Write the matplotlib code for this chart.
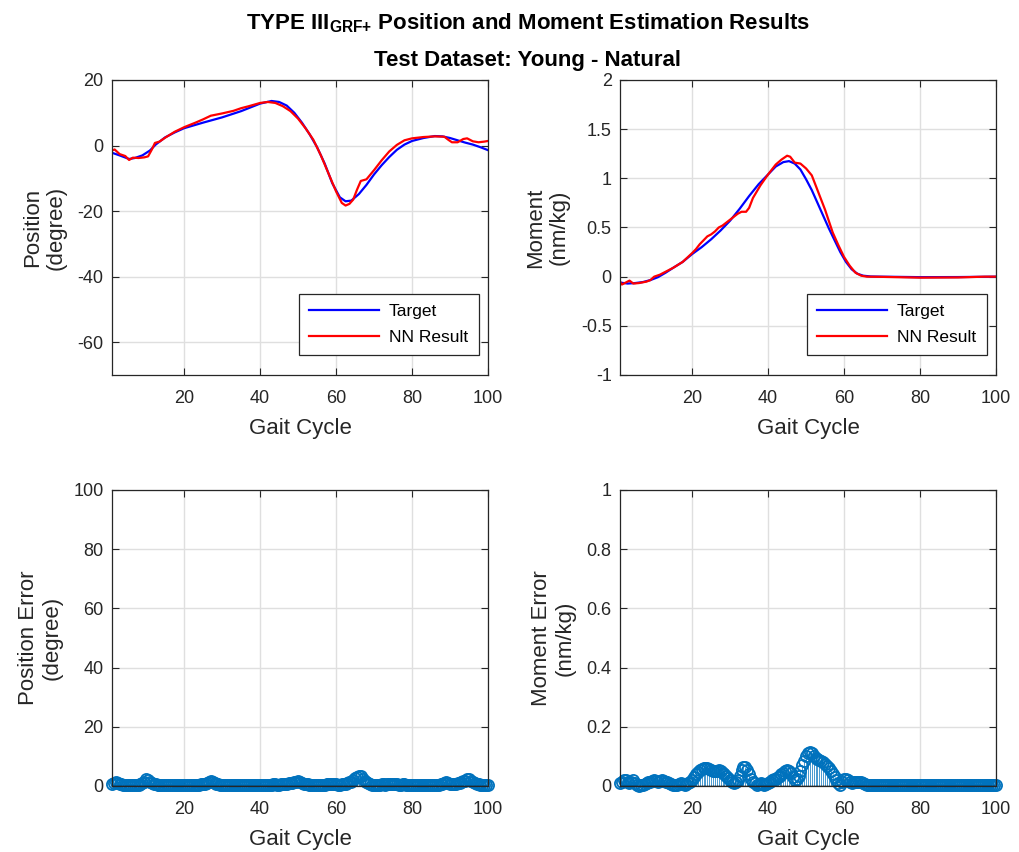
import numpy as np
import matplotlib.pyplot as plt

plt.rcParams['font.family'] = ['Liberation Sans', 'DejaVu Sans']
plt.rcParams['mathtext.fontset'] = 'custom'
plt.rcParams['mathtext.rm'] = 'Liberation Sans'
plt.rcParams['mathtext.bf'] = 'Liberation Sans:bold'
plt.rcParams['axes.unicode_minus'] = False

# ---- position (degree): target vs NN result ----
pos_tgt_x = [1, 3, 5.5, 7, 9, 11, 12.5, 15, 17.5, 20, 25, 30, 35, 40, 43, 45, 47, 49, 51, 53,
             55, 57, 59, 61, 62.5, 64, 66, 68, 70, 72, 74, 76, 78, 80, 83, 86, 88, 90, 92, 94,
             96, 98, 100]
pos_tgt_y = [-2.2, -3.0, -4.1, -3.8, -3.0, -1.5, 0.3, 2.5, 4.0, 5.3, 7.0, 8.6, 10.5, 12.8, 13.6,
             13.3, 12.2, 10.0, 7.0, 3.5, -0.5, -5.5, -11.5, -15.8, -17.0, -16.8, -14.8, -12.0,
             -8.8, -6.0, -3.5, -1.3, 0.3, 1.4, 2.3, 2.9, 2.8, 2.3, 1.6, 0.9, 0.3, -0.5, -1.4]

pos_nn_x = [1, 1.7, 3, 4.5, 5.5, 6.5, 8, 9.5, 10.5, 11.5, 12.3, 13.5, 15, 17.5, 20, 23, 25, 27,
            30, 33, 35, 37, 40, 42, 44, 46, 48, 50, 52, 54, 56, 58, 60, 61.5, 62.5, 63.5, 64.5,
            65.5, 66.5, 68, 70, 72, 74, 76, 78, 80, 83, 86, 88.5, 89.5, 90.5, 92, 93.5, 94.5,
            96, 97.5, 99, 100]
pos_nn_y = [-1.5, -1.2, -2.6, -3.2, -4.4, -3.7, -3.8, -3.6, -3.3, -1.2, 0.8, 1.2, 2.4, 4.2, 5.6,
            7.0, 8.0, 9.1, 9.8, 10.6, 11.4, 12.0, 13.0, 13.3, 13.0, 12.0, 10.5, 8.2, 5.2, 1.8,
            -3.0, -8.5, -14.0, -17.5, -18.3, -17.8, -16.5, -13.5, -10.8, -10.3, -7.5, -4.5, -1.8,
            0.2, 1.6, 2.2, 2.6, 2.8, 2.7, 1.8, 1.0, 1.0, 2.0, 2.2, 1.3, 1.0, 1.2, 1.4]

# ---- moment (nm/kg): target vs NN result ----
mom_tgt_x = [1, 3, 5, 7, 9, 11, 13, 15, 17.5, 20, 22.5, 25, 27.5, 30, 32.5, 35, 37.5, 40, 42, 44,
             45.5, 47, 48.5, 50, 51.5, 53, 54.5, 56, 57.5, 59, 60.5, 62, 63.5, 65, 67, 70, 80,
             90, 100]
mom_tgt_y = [-0.06, -0.07, -0.065, -0.055, -0.035, -0.005, 0.04, 0.09, 0.15, 0.23, 0.30, 0.38,
             0.47, 0.57, 0.69, 0.82, 0.94, 1.04, 1.12, 1.165, 1.175, 1.15, 1.09, 0.99, 0.88, 0.75,
             0.62, 0.49, 0.37, 0.25, 0.15, 0.075, 0.03, 0.01, 0.002, 0.0, -0.005, -0.004, 0.0]

mom_nn_x = [1, 1.5, 2.5, 3.5, 4.5, 6, 8, 9, 10, 11.5, 13, 15, 17.5, 20, 21, 22, 24, 25, 26, 27,
            28, 30, 32, 33, 34.2, 35, 36, 38, 40, 42, 43.5, 45, 45.8, 47, 48.5, 50, 51.5, 53, 55,
            57, 58.5, 60, 61.5, 63, 64.5, 66, 70, 80, 90, 97, 100]
mom_nn_y = [-0.05, -0.08, -0.06, -0.04, -0.07, -0.065, -0.05, -0.035, 0.0, 0.02, 0.05, 0.09, 0.15,
            0.24, 0.28, 0.33, 0.41, 0.43, 0.46, 0.50, 0.52, 0.58, 0.64, 0.66, 0.66, 0.70, 0.80,
            0.93, 1.04, 1.14, 1.19, 1.23, 1.22, 1.16, 1.15, 1.10, 1.03, 0.88, 0.68, 0.45, 0.32,
            0.20, 0.11, 0.04, 0.01, 0.0, -0.002, -0.01, -0.008, 0.0, 0.0]

# ---- absolute errors, every half percent of the gait cycle ----
gait = np.arange(1, 100.5, 0.5)
pos_err = [0.8, 1.0, 1.2, 1.0, 0.8, 0.6, 0.5, 0.4, 0.3, 0.3,
           0.3, 0.4, 0.5, 0.5, 0.5, 0.7, 1.0, 1.5, 2.2, 2.0,
           1.5, 1.1, 0.8, 0.6, 0.4, 0.3, 0.3, 0.2, 0.2, 0.3,
           0.3, 0.4, 0.4, 0.3, 0.3, 0.3, 0.3, 0.4, 0.4, 0.3,
           0.3, 0.3, 0.3, 0.4, 0.4, 0.5, 0.5, 0.6, 0.6, 0.7,
           0.9, 1.2, 1.6, 1.3, 0.9, 0.7, 0.6, 0.5, 0.4, 0.3,
           0.3, 0.3, 0.3, 0.2, 0.2, 0.3, 0.3, 0.3, 0.3, 0.2,
           0.2, 0.3, 0.3, 0.4, 0.4, 0.3, 0.3, 0.3, 0.3, 0.3,
           0.3, 0.4, 0.4, 0.5, 0.5, 0.6, 0.6, 0.5, 0.5, 0.6,
           0.7, 0.7, 0.8, 0.9, 1.0, 1.1, 1.3, 1.5, 1.6, 1.4,
           1.0, 0.8, 0.7, 0.6, 0.5, 0.4, 0.4, 0.3, 0.3, 0.3,
           0.3, 0.4, 0.5, 0.6, 0.6, 0.7, 0.8, 0.7, 0.6, 0.5,
           0.5, 0.6, 0.7, 0.8, 1.0, 1.2, 1.5, 2.0, 2.6, 3.1,
           3.5, 3.3, 2.5, 1.8, 1.2, 0.9, 0.6, 0.5, 0.4, 0.4,
           0.4, 0.5, 0.6, 0.6, 0.5, 0.6, 0.7, 0.8, 0.8, 0.7,
           0.6, 0.5, 0.5, 0.6, 0.6, 0.5, 0.4, 0.5, 0.5, 0.5,
           0.5, 0.4, 0.4, 0.3, 0.3, 0.4, 0.4, 0.3, 0.3, 0.4,
           0.4, 0.5, 0.5, 0.7, 0.8, 1.0, 1.2, 1.0, 0.8, 0.7,
           0.6, 0.7, 0.9, 1.1, 1.3, 1.6, 1.8, 2.3, 2.2, 1.8,
           1.5, 1.1, 0.8, 0.6, 0.5, 0.4, 0.4, 0.3, 0.3]
mom_err = [0.01, 0.015, 0.02, 0.02, 0.015, 0.01, 0.015, 0.02, 0.01, 0.005,
           0.0, 0.003, 0.005, 0.008, 0.01, 0.012, 0.015, 0.018, 0.02, 0.018,
           0.015, 0.018, 0.02, 0.018, 0.015, 0.012, 0.01, 0.008, 0.005, 0.005,
           0.005, 0.008, 0.01, 0.008, 0.005, 0.008, 0.01, 0.015, 0.02, 0.03,
           0.04, 0.048, 0.055, 0.058, 0.06, 0.062, 0.06, 0.058, 0.055, 0.052,
           0.05, 0.052, 0.055, 0.05, 0.045, 0.04, 0.035, 0.028, 0.02, 0.015,
           0.01, 0.012, 0.02, 0.035, 0.055, 0.065, 0.065, 0.055, 0.04, 0.025,
           0.015, 0.01, 0.005, 0.008, 0.01, 0.008, 0.005, 0.008, 0.01, 0.015,
           0.02, 0.022, 0.025, 0.03, 0.035, 0.04, 0.045, 0.05, 0.055, 0.052,
           0.045, 0.03, 0.02, 0.025, 0.035, 0.05, 0.07, 0.085, 0.1, 0.11,
           0.115, 0.11, 0.1, 0.095, 0.09, 0.088, 0.085, 0.08, 0.075, 0.068,
           0.06, 0.05, 0.04, 0.03, 0.02, 0.01, 0.005, 0.015, 0.025, 0.022,
           0.02, 0.015, 0.01, 0.012, 0.015, 0.015, 0.015, 0.012, 0.01, 0.008,
           0.005, 0.004, 0.003, 0.002, 0.002, 0.002, 0.002, 0.002, 0.002, 0.002] + [0.002] * 59

DARK = '#262626'
GRID = '#dfdfdf'
STEM = '#0072BD'

fig = plt.figure(figsize=(10.19, 8.52), dpi=100)

W, H = 1019, 852
def add_axes(x0, y0, x1, y1):
    return fig.add_axes([x0 / W, 1 - y1 / H, (x1 - x0) / W, (y1 - y0) / H])

ax_pos = add_axes(112, 80, 488, 375)
ax_mom = add_axes(620, 80, 996, 375)
ax_pe = add_axes(112, 490, 488, 786)
ax_me = add_axes(620, 490, 996, 786)


def style(ax, ylim, yticks, ylabel, ytl=None):
    ax.set_xlim(1, 100)
    ax.set_xticks([20, 40, 60, 80, 100])
    ax.set_ylim(*ylim)
    ax.set_yticks(yticks)
    if ytl is not None:
        ax.set_yticklabels(ytl)
    ax.grid(True, color=GRID, linewidth=1.0)
    ax.set_axisbelow(True)
    ax.tick_params(direction='in', top=True, right=True, length=5, width=0.8,
                   colors=DARK, labelsize=13)
    ax.tick_params(axis='x', pad=11)
    ax.tick_params(axis='y', pad=6)
    for s in ax.spines.values():
        s.set_color(DARK)
        s.set_linewidth(0.9)
    ax.set_xlabel('Gait Cycle', fontsize=16, color=DARK, labelpad=8)
    ax.set_ylabel(ylabel, fontsize=16, color=DARK, labelpad=8, linespacing=1.15)


ax_pos.plot(pos_tgt_x, pos_tgt_y, color='b', linewidth=1.6, label='Target')
ax_pos.plot(pos_nn_x, pos_nn_y, color='r', linewidth=1.6, label='NN Result')
style(ax_pos, (-70, 20), [-60, -40, -20, 0, 20], 'Position\n(degree)')

ax_mom.plot(mom_tgt_x, mom_tgt_y, color='b', linewidth=1.6, label='Target')
ax_mom.plot(mom_nn_x, mom_nn_y, color='r', linewidth=1.6, label='NN Result')
style(ax_mom, (-1, 2), [-1, -0.5, 0, 0.5, 1, 1.5, 2], 'Moment\n(nm/kg)',
      ['-1', '-0.5', '0', '0.5', '1', '1.5', '2'])

for ax in (ax_pos, ax_mom):
    leg = ax.legend(loc='lower right', bbox_to_anchor=(0.975, 0.067), fontsize=12.5,
                    handlelength=4.0, fancybox=False, framealpha=1, borderpad=0.6,
                    labelspacing=0.6, handletextpad=0.6, borderaxespad=0)
    leg.get_frame().set_edgecolor(DARK)
    leg.get_frame().set_linewidth(0.9)


def stems(ax, vals):
    ml, sl, bl = ax.stem(gait, vals, linefmt='-', markerfmt='o', basefmt='-')
    plt.setp(sl, color=STEM, linewidth=0.5)
    plt.setp(ml, markerfacecolor='none', markeredgecolor=STEM, markersize=8,
             markeredgewidth=1.3, clip_on=False)
    plt.setp(bl, color='k', linewidth=1.0)


stems(ax_pe, pos_err)
style(ax_pe, (0, 100), [0, 20, 40, 60, 80, 100], 'Position Error\n(degree)')

stems(ax_me, mom_err)
style(ax_me, (0, 1), [0, 0.2, 0.4, 0.6, 0.8, 1], 'Moment Error\n(nm/kg)',
      ['0', '0.2', '0.4', '0.6', '0.8', '1'])

fig.text(0.518, 0.973, r'TYPE III$_{\mathbf{GRF{+}}}$ Position and Moment Estimation Results',
         ha='center', va='center', fontsize=16, fontweight='bold', color='k')
fig.text(0.518, 0.929, 'Test Dataset: Young - Natural',
         ha='center', va='center', fontsize=16, fontweight='bold', color='k')

fig.savefig('out.png', dpi=100)
